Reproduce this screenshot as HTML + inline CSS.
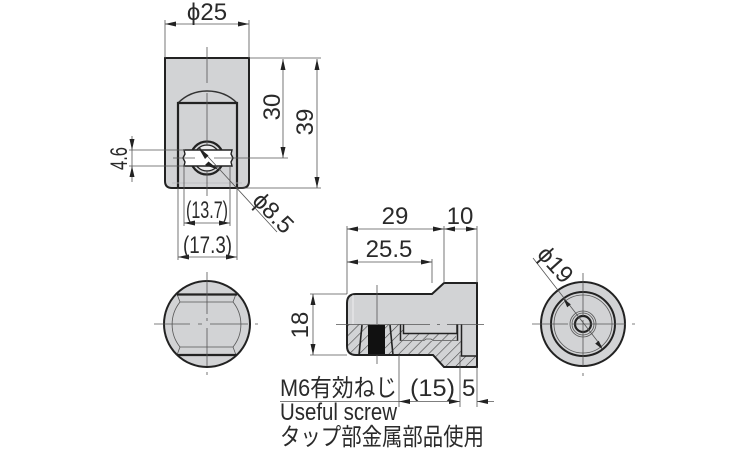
<!DOCTYPE html>
<html><head><meta charset="utf-8"><style>
html,body{margin:0;padding:0;background:#fff;width:750px;height:450px;overflow:hidden}
svg{display:block}
text{font-family:"Liberation Sans","Noto Sans CJK JP",sans-serif;fill:#2a2a2a;font-size:24px}
.t{stroke:#555;stroke-width:.8;fill:none}
.k{stroke:#222;stroke-width:2.2;fill:none}
.m{stroke:#333;stroke-width:1.5;fill:none}
.a{fill:#222;stroke:none}
</style></head><body>
<svg width="750" height="450" viewBox="0 0 750 450" xmlns="http://www.w3.org/2000/svg">
<defs>
<pattern id="hat" width="7" height="7" patternUnits="userSpaceOnUse" patternTransform="rotate(45)">
<rect width="7" height="7" fill="#d2d3d5"/><line x1="0" y1="0" x2="0" y2="7" stroke="#444" stroke-width="1.2"/>
</pattern>
</defs>

<!-- Front view -->
<path d="M165 58H249V181Q249 188 242 188H172Q165 188 165 181Z" fill="#d2d3d5" stroke="#222" stroke-width="2"/>
<path d="M178 103Q190 91 207 91Q225 91 237 103" class="m"/>
<path d="M178 188V103H237V188" class="k"/>
<line x1="172" y1="183" x2="242" y2="183" stroke="#b8b9bb" stroke-width=".8"/>
<circle cx="207" cy="158" r="16.500" fill="#d2d3d5" stroke="#222" stroke-width="2.200"/>
<circle cx="207" cy="158" r="13" fill="#eeeeef" stroke="#222" stroke-width="1.300"/>
<path d="M184 150H232L231 154 233 158 231 162 232 166H184L185 162 183 158 185 154Z" fill="#fff" stroke="#222" stroke-width="1.400"/>
<path d="M207 47V83M207 93V146M207 170V196" class="t"/>
<path d="M173 158H195M214 158H288" class="t"/>

<!-- front dims -->
<path d="M165 20V58M249 20V58M165 24H249" class="t"/>
<path d="M165 24l11-2.500v5ZM249 24l-11-2.500v5Z" class="a"/>
<text x="207" y="20" text-anchor="middle">ϕ25</text>
<path d="M249 58H321M283 59V158M317 59V188M237 188H321" class="t"/>
<path d="M283 59l-2.500 11h5ZM283 158l-2.500-11h5ZM317 59l-2.500 11h5ZM317 188l-2.500-11h5Z" class="a"/>
<text transform="translate(280 107) rotate(-90)" text-anchor="middle">30</text>
<text transform="translate(313 122) rotate(-90)" text-anchor="middle">39</text>
<path d="M129 150H185M129 166H185M132 136V182" class="t"/>
<path d="M132 150l-2.500-11h5ZM132 166l-2.500 11h5Z" class="a"/>
<text transform="translate(127 170) rotate(-90)" textLength="23" lengthAdjust="spacingAndGlyphs">4.6</text>
<path d="M184 166V226M230 166V226M184 223H230M178 188V260M237 188V260M178 257H237" class="t"/>
<path d="M184 223l11-2.500v5ZM230 223l-11-2.500v5ZM178 257l11-2.500v5ZM237 257l-11-2.500v5Z" class="a"/>
<text x="186" y="218" textLength="42" lengthAdjust="spacingAndGlyphs">(13.7)</text>
<text x="183" y="253" textLength="49" lengthAdjust="spacingAndGlyphs">(17.3)</text>
<path d="M200 148L277 232" class="t"/>
<path d="M198 147l10.500 8.500-3.500 3.500ZM219 170l-10.500-8.500-3.500 3.500Z" class="a"/>
<text transform="translate(251 202) rotate(45)">ϕ8.5</text>

<!-- Top view (lower-left circle) -->
<circle cx="207" cy="324" r="43" fill="#d2d3d5" stroke="#222" stroke-width="2"/>
<path d="M180 302H233M180 347H233M177 294L180 302M236 294L233 302M177 355L180 347M236 355L233 347" class="t"/>
<path d="M180 302A36 36 0 0 0 180 347M233 302A36 36 0 0 1 233 347" class="t"/>
<path d="M177 294.500H237M177 355H237" class="k"/>
<path d="M154 324H190M198 324H202M210 324H248M255 324H258M207 272V314M207 318V321M207 328V366M207 372V375" class="t"/>

<!-- Side view -->
<path d="M347 303Q347 294 356 294H432L444 283H477V367H444L433 355H356Q347 355 347 346Z" fill="#d2d3d5" stroke="none"/>
<path d="M347 324H403V341H462V356H477V367H444L433 355H356Q347 355 347 346Z" fill="url(#hat)" stroke="none"/>
<rect x="403" y="334" width="53" height="6" fill="url(#hat)"/>
<rect x="368" y="325" width="17" height="30" fill="#111"/>
<path d="M362 325L359 355M390 325L393 355" fill="none" stroke="#222" stroke-width="1.600"/>
<path d="M400.500 324V341M403.500 324V333.500H457V324M457.500 324V341M461.500 324V356H477" fill="none" stroke="#222" stroke-width="1.500"/>
<path d="M400 340.500H424L426 339H431L433 340.500H458" class="t"/>
<path d="M347 303Q347 294 356 294H432L444 283H477V367H444L433 355H356Q347 355 347 346Z" fill="none" stroke="#222" stroke-width="2"/>
<path d="M353 295V324" stroke="#eee" stroke-width="1"/>
<path d="M336 324.500H430M437 324.500H440M447 324.500H484M377 285V324M377 355V364" class="t"/>

<!-- Side dims -->
<path d="M347 226V294M444 226V283M477 226V283M432 259V283M347 229H477M347 262H432" class="t"/>
<path d="M347 229l11-2.500v5ZM444 229l-11-2.500v5ZM444 229l11-2.500v5ZM477 229l-11-2.500v5ZM347 262l11-2.500v5ZM432 262l-11-2.500v5Z" class="a"/>
<text x="395" y="224" text-anchor="middle">29</text>
<text x="460" y="224" text-anchor="middle">10</text>
<text x="389" y="257" text-anchor="middle">25.5</text>
<path d="M310 294H347M310 355H347M313 294V355" class="t"/>
<path d="M313 294l-2.500 11h5ZM313 355l-2.500-11h5Z" class="a"/>
<text transform="translate(308 325) rotate(-90)" text-anchor="middle">18</text>

<!-- Bottom dims -->
<path d="M399 355V407M460 355V407M477 367V407M280 401.500H460M477 401.500H494" class="t"/>
<path d="M399 401.500l11-2.500v5ZM460 401.500l-11-2.500v5ZM477 401.500l11-2.500v5Z" class="a"/>
<text x="280" y="396" textLength="117" lengthAdjust="spacingAndGlyphs">M6有効ねじ</text>
<text x="410" y="396" textLength="45" lengthAdjust="spacingAndGlyphs">(15)</text>
<text x="462" y="396">5</text>
<text x="280" y="420" textLength="117" lengthAdjust="spacingAndGlyphs">Useful screw</text>
<text x="280" y="445" textLength="204" lengthAdjust="spacingAndGlyphs">タップ部金属部品使用</text>

<!-- Right view -->
<circle cx="583" cy="324" r="42" fill="#d2d3d5" stroke="#222" stroke-width="2"/>
<circle cx="583" cy="324" r="32" fill="none" stroke="#222" stroke-width="2"/>
<circle cx="583" cy="324" r="29" class="t"/>
<circle cx="583" cy="324" r="13" class="t"/>
<circle cx="583" cy="324" r="11" class="t"/>
<circle cx="583" cy="324" r="8" fill="none" stroke="#222" stroke-width="2.200"/>
<path d="M532 324H568M572 324H626M632 324H635M583 273V316M583 320V366M583 373V376" class="t"/>
<path d="M533 258L602 347" class="t"/>
<path d="M563.500 298.700L570.800 304.400 567.200 307.200ZM602.500 349.300L598.800 340.800 595.200 343.600Z" class="a"/>
<text transform="translate(536 255) rotate(48)">ϕ19</text>
</svg>
</body></html>
